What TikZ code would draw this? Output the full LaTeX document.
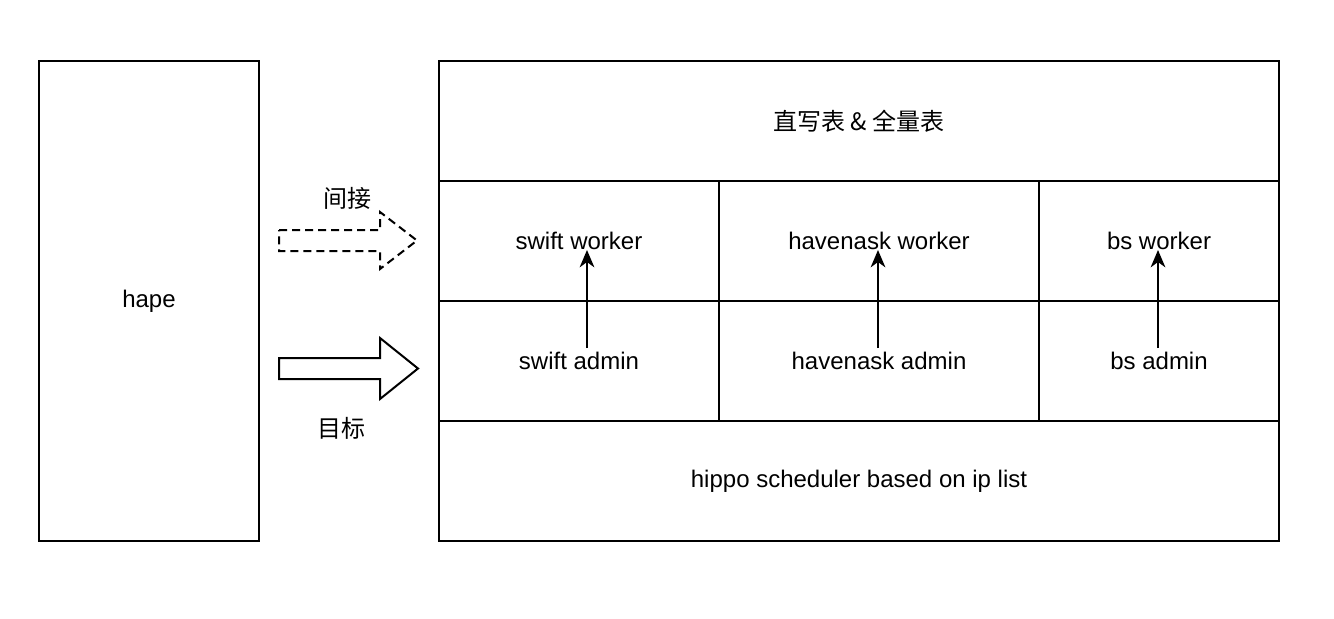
\documentclass[tikz,border=0pt]{standalone}
\usepackage{fontspec}
\setmainfont{Liberation Sans}
\newfontfamily\cjk{Noto Sans CJK SC}
\usetikzlibrary{arrows.meta}

\begin{document}
\begin{tikzpicture}[
		x=0.75pt, y=-0.75pt,
		every node/.style={font=\fontsize{18}{21}\selectfont},
		cell/.style={rectangle, draw, line width=1.5pt, inner sep=0pt, minimum height=90pt},
		call/.style={line width=1.5pt, -{Stealth[length=13pt, width=11pt, inset=4pt]}},
		block/.style={line width=1.5pt, line join=miter}
	]
  \fill[white] (0,0) rectangle (1334,618);
  \useasboundingbox (0,0) rectangle (1334,618);
  \node (hape) [cell, minimum width=165pt, minimum height=360pt] at (149,301) {hape};
  \node (table) [cell, minimum width=630pt] at (859,121) {\cjk 直写表 \& 全量表};
  \node (swift_w) [cell, minimum width=210pt] at (579,241) {swift worker};
  \node (havenask_w) [cell, minimum width=240pt] at (879,241) {havenask worker};
  \node (bs_w) [cell, minimum width=180pt] at (1159,241) {bs worker};
  \node (swift_a) [cell, minimum width=210pt] at (579,361) {swift admin};
  \node (havenask_a) [cell, minimum width=240pt] at (879,361) {havenask admin};
  \node (bs_a) [cell, minimum width=180pt] at (1159,361) {bs admin};
  \node (hippo) [cell, minimum width=630pt] at (859,481) {hippo scheduler based on ip list};
  \node (indirect) [font=\cjk\fontsize{18}{21}\selectfont] at (347,198) {间接};
  \node (target) [font=\cjk\fontsize{18}{21}\selectfont] at (341,428) {目标};
  % block arrows
  \draw[block, dash pattern=on 6pt off 3.75pt] (279,230) -- (380,230) -- (380,212) -- (417,240.5)
    -- (380,269) -- (380,251) -- (279,251) -- cycle;
  \draw[block] (279,358) -- (380,358) -- (380,338) -- (418,368.5)
    -- (380,399) -- (380,379) -- (279,379) -- cycle;
  % admin to worker
  \draw[call] ([shift={(8,-13)}]swift_a.center) -- ([shift={(8,9)}]swift_w.center);
  \draw[call] ([shift={(-1,-13)}]havenask_a.center) -- ([shift={(-1,9)}]havenask_w.center);
  \draw[call] ([shift={(-1,-13)}]bs_a.center) -- ([shift={(-1,9)}]bs_w.center);
\end{tikzpicture}
\end{document}
